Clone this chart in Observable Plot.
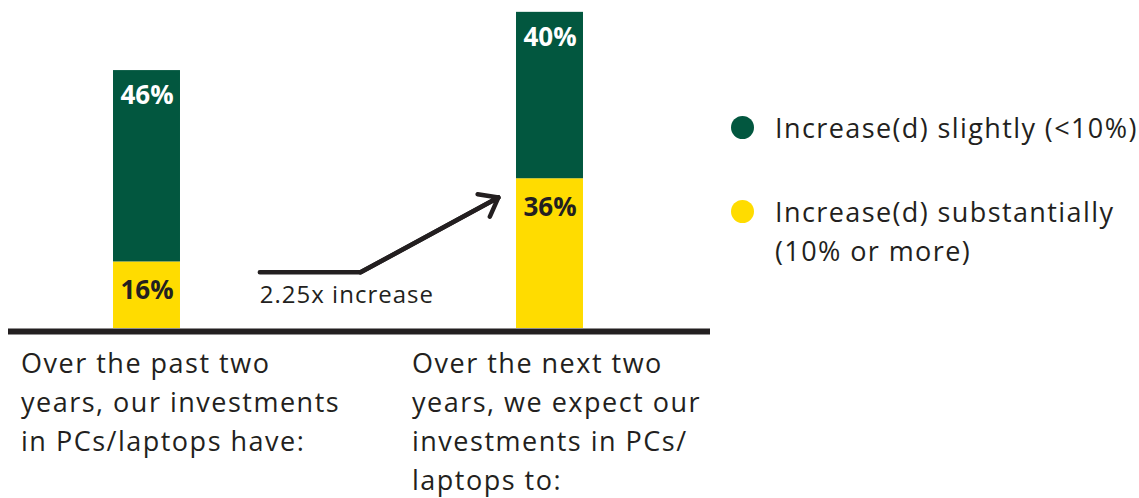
<!DOCTYPE html>
<html>
<head>
<meta charset="utf-8">
<script src="https://cdn.jsdelivr.net/npm/d3@7"></script>
<script src="https://cdn.jsdelivr.net/npm/@observablehq/plot@0.6"></script>
<style>
  html, body { margin: 0; padding: 0; background: #fff; }
  #wrap { position: relative; width: 1139px; height: 498px; font-family: "Open Sans", sans-serif; color: #231F20; }
  #wrap svg { position: absolute; left: 0; top: 0; }
  [aria-label="category-label"], [aria-label="category-label"] tspan { letter-spacing: 1.5px; }
  [aria-label="arrow-label"], [aria-label="arrow-label"] tspan { letter-spacing: 1px; }
  .item { position: absolute; left: 731px; font-size: 27px; line-height: 39px; letter-spacing: 1.4px; }
  .item .dot { position: absolute; left: 0; width: 23px; height: 23px; border-radius: 50%; }
  .item .label { position: absolute; left: 44px; white-space: nowrap; }
</style>
</head>
<body>
<div id="wrap"></div>
<script>
// ---- data ----
const categories = [
  "Over the past two\nyears, our investments\nin PCs/laptops have:",
  "Over the next two\nyears, we expect our\ninvestments in PCs/\nlaptops to:"
];
const seriesNames = ["Increase(d) slightly (<10%)", "Increase(d) substantially (10% or more)"];
const legendLabels = ["Increase(d) slightly (<10%)", "Increase(d) substantially\n(10% or more)"];
const seriesColors = ["#02573F", "#FFDC00"];
const slightly = [46, 40];
const substantially = [16, 36];
// annotation arrow, x in category-index units, y in percent
const arrowX = [0.28, 0.53, 0.872];
const arrowY = [13.5, 13.5, 31.5];
const arrowLabel = "2.25x increase";

// ---- table ----
const rows = [];
categories.forEach((c, i) => {
  const a = substantially[i], b = slightly[i];
  rows.push({i, category: c, series: seriesNames[1], value: a, top: a});
  rows.push({i, category: c, series: seriesNames[0], value: b, top: a + b});
});
const catRows = categories.map((c, i) => ({i, label: c}));
const arrowPts = arrowX.map((x, k) => ({x, y: arrowY[k]}));

const ink = "#231F20";
const half = 0.0831;
const font = "'Open Sans', sans-serif";

const chart = Plot.plot({
  width: 1139,
  height: 498,
  marginLeft: 8,
  marginRight: 429,
  marginTop: 0,
  marginBottom: 0,
  style: {fontFamily: font, background: "transparent", overflow: "visible"},
  x: {type: "linear", domain: [0, 1], range: [146.5, 549.5], axis: null},
  y: {domain: [0, 100], range: [328, -88], axis: null},
  color: {domain: seriesNames, range: seriesColors},
  marks: [
    Plot.rectY(rows, {x1: d => d.i - half, x2: d => d.i + half, y: "value", fill: "series"}),
    Plot.text(rows.filter(d => d.series === seriesNames[0]), {
      x: "i", y: "top", text: d => d.value + "%", fill: "white",
      fontSize: 26, fontWeight: "bold", dy: 25.5, lineAnchor: "middle"
    }),
    Plot.text(rows.filter(d => d.series === seriesNames[1]), {
      x: "i", y: "top", text: d => d.value + "%", fill: ink,
      fontSize: 26, fontWeight: "bold", dy: 28.5, lineAnchor: "middle"
    }),
    Plot.ruleY([0], {stroke: ink, strokeWidth: 6, dy: 3}),
    Plot.line(arrowPts, {x: "x", y: "y", stroke: ink, strokeWidth: 4.5, strokeLinejoin: "miter"}),
    Plot.arrow([arrowPts], {
      x1: d => d[1].x, y1: d => d[1].y, x2: d => d[2].x, y2: d => d[2].y,
      stroke: ink, strokeWidth: 4.5, headLength: 7, headAngle: 75
    }),
    Plot.text([arrowPts[0]], {
      ariaLabel: () => "arrow-label",
      x: "x", y: "y", text: [arrowLabel], fill: ink, fontSize: 24,
      textAnchor: "start", lineAnchor: "bottom", dy: 31
    }),
    Plot.text(catRows.filter(d => d.i === 0), {
      ariaLabel: () => "category-label",
      x: "i", y: () => 0, text: "label", fill: ink, fontSize: 27, lineHeight: 1.44,
      textAnchor: "start", lineAnchor: "top", dx: -126, dy: 17
    }),
    Plot.text(catRows.filter(d => d.i === 1), {
      ariaLabel: () => "category-label",
      x: "i", y: () => 0, text: "label", fill: ink, fontSize: 27, lineHeight: 1.44,
      textAnchor: "start", lineAnchor: "top", dx: -138, dy: 17
    })
  ]
});

const wrap = document.getElementById("wrap");
wrap.appendChild(chart);

// legend (HTML)
const tops = [108, 192];
legendLabels.forEach((lab, k) => {
  const item = document.createElement("div");
  item.className = "item";
  item.style.top = tops[k] + "px";
  const dot = document.createElement("div");
  dot.className = "dot";
  dot.style.background = seriesColors[k];
  dot.style.top = "8px";
  const t = document.createElement("div");
  t.className = "label";
  t.innerHTML = lab.split("\n").join("<br>");
  item.appendChild(dot);
  item.appendChild(t);
  wrap.appendChild(item);
});
</script>
</body>
</html>
